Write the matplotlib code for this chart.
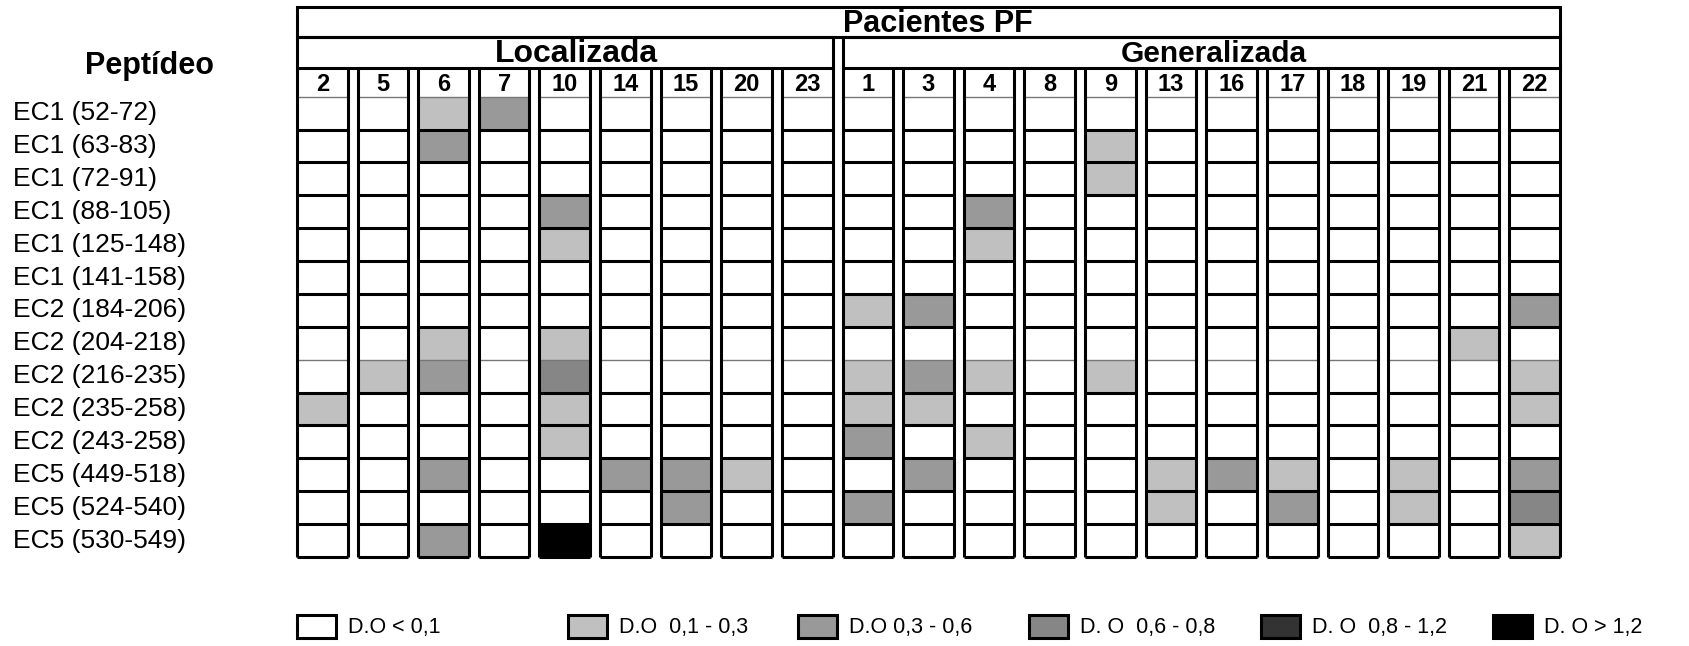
import matplotlib
matplotlib.use('Agg')
import matplotlib.pyplot as plt
from matplotlib.patches import Rectangle
from matplotlib.transforms import blended_transform_factory
from matplotlib import font_manager

plt.rcParams['font.family'] = ['Liberation Sans', 'DejaVu Sans']
installed = {f.name for f in font_manager.fontManager.ttflist}
NARROW = 'Liberation Sans Narrow' if 'Liberation Sans Narrow' in installed else 'Liberation Sans'

# Data
peptides = ['EC1 (52-72)', 'EC1 (63-83)', 'EC1 (72-91)', 'EC1 (88-105)',
            'EC1 (125-148)', 'EC1 (141-158)', 'EC2 (184-206)', 'EC2 (204-218)',
            'EC2 (216-235)', 'EC2 (235-258)', 'EC2 (243-258)', 'EC5 (449-518)',
            'EC5 (524-540)', 'EC5 (530-549)']
patients_localizada = ['2', '5', '6', '7', '10', '14', '15', '20', '23']
patients_generalizada = ['1', '3', '4', '8', '9', '13', '16', '17', '18', '19', '21', '22']

# OD class per peptide (row) and patient (column): 0 = <0,1 ... 5 = >1,2
od_localizada = [
    [0, 0, 1, 2, 0, 0, 0, 0, 0],
    [0, 0, 2, 0, 0, 0, 0, 0, 0],
    [0, 0, 0, 0, 0, 0, 0, 0, 0],
    [0, 0, 0, 0, 2, 0, 0, 0, 0],
    [0, 0, 0, 0, 1, 0, 0, 0, 0],
    [0, 0, 0, 0, 0, 0, 0, 0, 0],
    [0, 0, 0, 0, 0, 0, 0, 0, 0],
    [0, 0, 1, 0, 1, 0, 0, 0, 0],
    [0, 1, 2, 0, 3, 0, 0, 0, 0],
    [1, 0, 0, 0, 1, 0, 0, 0, 0],
    [0, 0, 0, 0, 1, 0, 0, 0, 0],
    [0, 0, 2, 0, 0, 2, 2, 1, 0],
    [0, 0, 0, 0, 0, 0, 2, 0, 0],
    [0, 0, 2, 0, 5, 0, 0, 0, 0],
]
od_generalizada = [
    [0, 0, 0, 0, 0, 0, 0, 0, 0, 0, 0, 0],
    [0, 0, 0, 0, 1, 0, 0, 0, 0, 0, 0, 0],
    [0, 0, 0, 0, 1, 0, 0, 0, 0, 0, 0, 0],
    [0, 0, 2, 0, 0, 0, 0, 0, 0, 0, 0, 0],
    [0, 0, 1, 0, 0, 0, 0, 0, 0, 0, 0, 0],
    [0, 0, 0, 0, 0, 0, 0, 0, 0, 0, 0, 0],
    [1, 2, 0, 0, 0, 0, 0, 0, 0, 0, 0, 2],
    [0, 0, 0, 0, 0, 0, 0, 0, 0, 0, 1, 0],
    [1, 2, 1, 0, 1, 0, 0, 0, 0, 0, 0, 1],
    [1, 1, 0, 0, 0, 0, 0, 0, 0, 0, 0, 1],
    [2, 0, 1, 0, 0, 0, 0, 0, 0, 0, 0, 0],
    [0, 2, 0, 0, 0, 1, 2, 1, 0, 1, 0, 2],
    [2, 0, 0, 0, 0, 1, 0, 2, 0, 1, 0, 3],
    [0, 0, 0, 0, 0, 0, 0, 0, 0, 0, 0, 1],
]
legend_labels = ['D.O < 0,1', 'D.O  0,1 - 0,3', 'D.O 0,3 - 0,6',
                 'D. O  0,6 - 0,8', 'D. O  0,8 - 1,2', 'D. O > 1,2']
class_colors = ['#ffffff', '#c0c0c0', '#999999', '#868686', '#333333', '#000000']

# Layout
W = 0.835          # column box width (pitch = 1)
H_NUM, H_GRP, H_TTL = 0.88, 0.94, 0.91
LW = 2.2

patients = patients_localizada + patients_generalizada
n_rows = len(peptides)
n_loc = len(patients_localizada)
n_cols = len(patients)
y_num = -H_NUM
y_grp = y_num - H_GRP
y_ttl = y_grp - H_TTL

fig = plt.figure(figsize=(16.9, 6.46), dpi=100)
ax = fig.add_axes([297 / 1690, 1 - 557 / 646, 1263 / 1690, 550 / 646])
ax.set_xlim(0, n_cols - 1 + W)
ax.set_ylim(n_rows, y_ttl)
ax.axis('off')

rows = list(range(n_rows))
for c, name in enumerate(patients):
    if c < n_loc:
        col_levels = [od_localizada[r][c] for r in rows]
    else:
        col_levels = [od_generalizada[r][c - n_loc] for r in rows]
    ax.bar([c] * n_rows, [1] * n_rows, bottom=rows, width=W, align='edge',
           color=[class_colors[v] for v in col_levels], linewidth=0, zorder=1)
    # column frame
    ax.vlines([c, c + W], y_num, n_rows, colors='black', lw=LW, zorder=3, clip_on=False)
    for k in range(1, n_rows + 1):
        thin = (k == 8)
        ax.hlines(k, c, c + W, colors='#777777' if thin else 'black',
                  lw=1.0 if thin else LW, zorder=2 if thin else 3, clip_on=False)
    ax.hlines(0, c, c + W, colors='#777777', lw=1.0, zorder=2)
    ax.text(c + W / 2, -0.19, name, ha='center', va='baseline',
            fontsize=17, fontweight='bold')

# group and title boxes
ax.add_patch(Rectangle((0, y_grp), n_loc - 1 + W, H_GRP, fill=False,
                       lw=LW, ec='black', zorder=3, clip_on=False))
ax.add_patch(Rectangle((n_loc, y_grp), n_cols - n_loc - 1 + W, H_GRP, fill=False,
                       lw=LW, ec='black', zorder=3, clip_on=False))
ax.add_patch(Rectangle((0, y_ttl), n_cols - 1 + W, H_TTL, fill=False,
                       lw=LW, ec='black', zorder=3, clip_on=False))
ax.text((n_loc - 1 + W) / 2 + 0.2, y_num - 0.17, 'Localizada', ha='center',
        va='baseline', fontsize=23, fontweight='bold')
ax.text((n_loc + n_cols - 1 + W) / 2 + 0.2, y_num - 0.17, 'Generalizada', ha='center',
        va='baseline', fontsize=21.5, fontweight='bold')
ax.text((n_cols - 1 + W) / 2 + 0.15, y_grp - 0.14, 'Pacientes PF', ha='center',
        va='baseline', fontsize=26 if NARROW != 'Liberation Sans' else 22,
        fontweight='bold', family=[NARROW, 'DejaVu Sans'])

# peptide labels
trans = blended_transform_factory(fig.transFigure, ax.transData)
for r, name in enumerate(peptides):
    ax.text(13 / 1690, r + 0.5, name, transform=trans, ha='left', va='center',
            fontsize=19)
ax.text(150 / 1690, -0.94, 'Peptídeo', transform=trans, ha='center',
        va='center', fontsize=22, fontweight='bold')

# legend
lax = fig.add_axes([0, 0, 1, 1])
lax.set_xlim(0, 1690)
lax.set_ylim(646, 0)
lax.axis('off')
legend_x = [297, 568, 798, 1029, 1261, 1493]
for x, label, color in zip(legend_x, legend_labels, class_colors):
    lax.add_patch(Rectangle((x, 615), 39, 23, fc=color, ec='black', lw=LW))
    lax.text(x + 51, 627, label, ha='left', va='center', fontsize=15.5)

fig.savefig('out.png', dpi=100)
plt.close(fig)
